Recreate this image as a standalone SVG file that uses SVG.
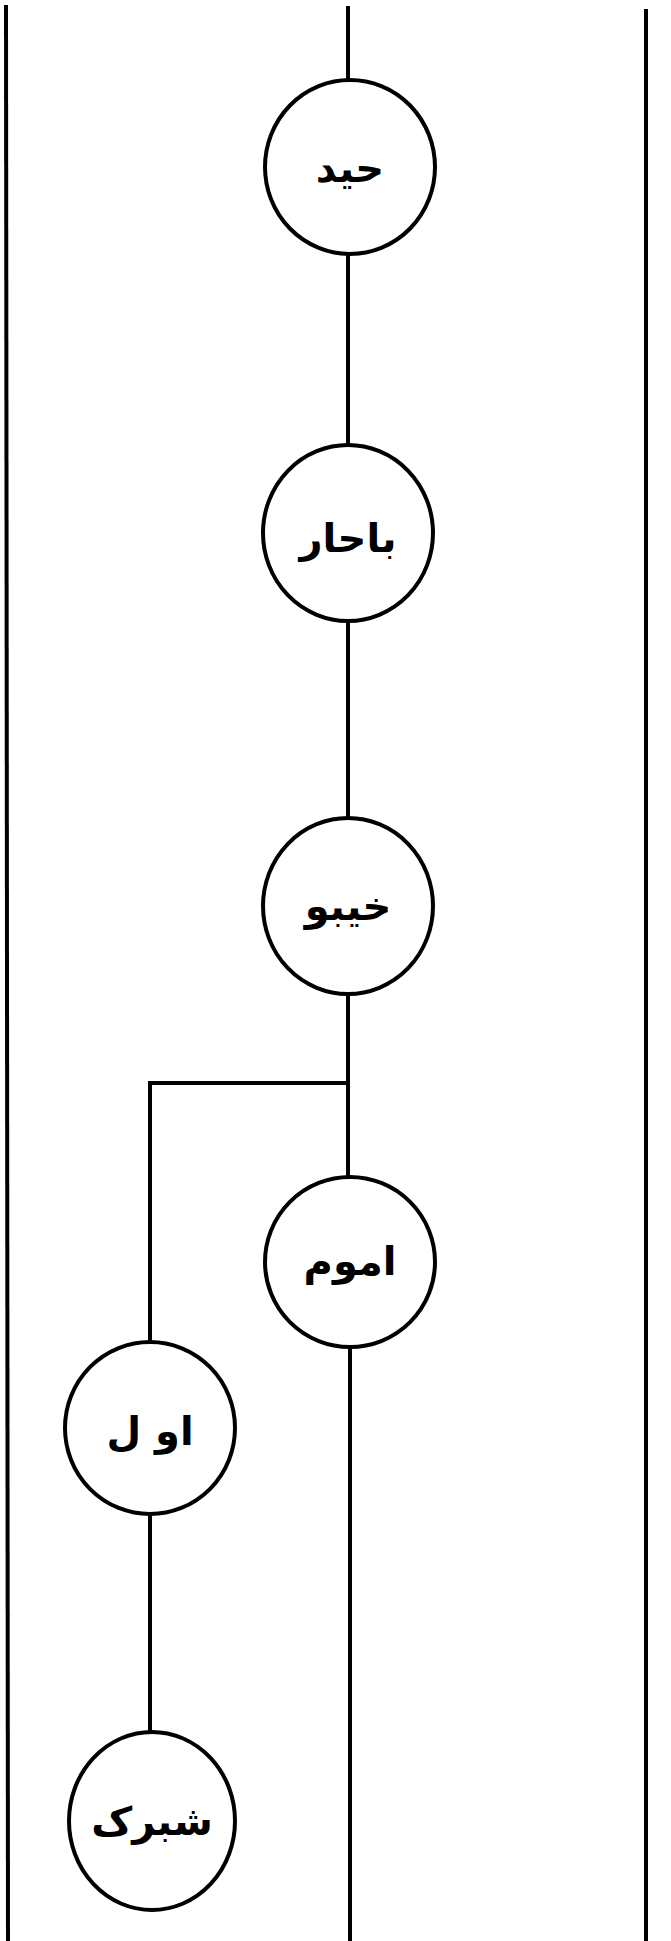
<svg xmlns="http://www.w3.org/2000/svg" width="671" height="1941" viewBox="0 0 671 1941">
<style>
.ln{stroke:#000;stroke-width:4;fill:none;stroke-linecap:butt}
.nd{stroke:#000;stroke-width:4;fill:#fff}
.lb{font-family:"DejaVu Sans","Noto Sans",sans-serif;font-size:40px;font-weight:bold;fill:#000;text-anchor:middle}
</style>
<rect width="671" height="1941" fill="#fff"/>
<g id="borders">
<line class="ln" x1="6" y1="5" x2="8" y2="1941"/>
<line class="ln" x1="646" y1="9" x2="646" y2="1941"/>
</g>
<g id="connectors">
<line class="ln" x1="348" y1="6" x2="348" y2="80"/>
<line class="ln" x1="348" y1="255" x2="348" y2="445"/>
<line class="ln" x1="348" y1="621" x2="348" y2="818"/>
<line class="ln" x1="348" y1="994" x2="348" y2="1177"/>
<line class="ln" x1="350" y1="1347" x2="350" y2="1941"/>
<polyline class="ln" points="348,1083 150,1083 150,1343"/>
<line class="ln" x1="150" y1="1514" x2="150" y2="1732"/>
</g>
<g id="node1"><ellipse class="nd" cx="350" cy="167" rx="85" ry="87"/><text class="lb" x="350" y="182">حید</text></g>
<g id="node2"><ellipse class="nd" cx="348" cy="533" rx="85" ry="88"/><text class="lb" x="348" y="552">باحار</text></g>
<g id="node3"><ellipse class="nd" cx="348" cy="906" rx="85" ry="88"/><text class="lb" x="348" y="920">خیبو</text></g>
<g id="node4"><ellipse class="nd" cx="350" cy="1262" rx="85" ry="85"/><text class="lb" x="350" y="1275">اموم</text></g>
<g id="node5"><ellipse class="nd" cx="150" cy="1428" rx="85" ry="86"/><text class="lb" x="150" y="1445">او ل</text></g>
<g id="node6"><ellipse class="nd" cx="152" cy="1821" rx="83" ry="89"/><text class="lb" x="152" y="1835">شبرک</text></g>
</svg>
